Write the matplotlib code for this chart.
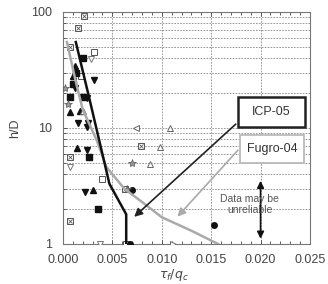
import numpy as np
import matplotlib
matplotlib.use("Agg")
import matplotlib.pyplot as plt
from matplotlib.patches import Rectangle
from matplotlib.ticker import MultipleLocator, FixedLocator, NullFormatter

plt.rcParams['font.family'] = ['Liberation Sans', 'DejaVu Sans']

# design lines
icp_x = [0.0013, 0.0027, 0.0047, 0.0064, 0.0064]
icp_y = [55, 17.5, 3.3, 1.8, 1.0]
fugro_x = [0.0004, 0.0013, 0.0020, 0.0034, 0.0044, 0.0062, 0.0080, 0.0100, 0.0130, 0.0157]
fugro_y = [55, 25, 14.4, 7.9, 4.6, 3.0, 2.3, 1.7, 1.3, 1.0]

# measured points, grouped by marker type
sqx_x = [0.0021, 0.0015, 0.0007, 0.0007, 0.0079, 0.0007, 0.0063]
sqx_y = [92, 73, 50, 5.6, 7.0, 1.58, 3.0]
opensq_x = [0.0031, 0.0040, 0.0064, 0.0018]
opensq_y = [45, 3.6, 1.0, 28]
fillsq_x = [0.0020, 0.0007, 0.0020, 0.0026, 0.0035, 0.0013, 0.0010]
fillsq_y = [40, 18.6, 18.6, 5.6, 2.0, 30, 24]
tridown_x = [0.0031, 0.0024, 0.0015, 0.0025, 0.0024, 0.0022, 0.0024, 0.0012]
tridown_y = [26, 18, 11, 11, 6.4, 2.8, 10.2, 22]
triup_x = [0.0012, 0.0007, 0.0014, 0.0030, 0.0017, 0.0010]
triup_y = [34, 13.8, 6.7, 2.9, 14, 28]
opentri_x = [0.0108, 0.0098, 0.0088, 0.0020]
opentri_y = [10, 6.8, 4.9, 14]
graytri_x = [0.0007, 0.0037, 0.0028]
graytri_y = [4.6, 1.0, 39]
circ_x = [0.0070, 0.0153, 0.0068]
circ_y = [2.9, 1.46, 1.0]
star_x = [0.0002, 0.0070, 0.0065, 0.0005]
star_y = [22, 5.0, 3.0, 16]
left_x = [0.0074]
left_y = [10]
right_x = [0.0111]
right_y = [1.0]

fig = plt.figure(figsize=(3.28, 2.84), dpi=100)
ax = fig.add_axes([0.192, 0.141, 0.753, 0.817])

ax.set_yscale('log')
ax.set_xlim(0, 0.025)
ax.set_ylim(1, 100)

grid_kw = dict(color='#888888', linestyle=(0, (2, 1.5)), linewidth=0.6, zorder=0)
for v in [0.005, 0.010, 0.015, 0.020]:
    ax.axvline(v, **grid_kw)
for dec in [1, 10]:
    for m in range(2, 10):
        ax.axhline(dec * m, **grid_kw)
ax.axhline(10, **grid_kw)

ms = 4
ax.plot(sqx_x, sqx_y, 's', ms=ms, mfc='white', mec='#555555', mew=0.7, zorder=3)
ax.plot(sqx_x, sqx_y, 'x', ms=2.5, mec='#555555', mew=0.6, zorder=4)
ax.plot(opensq_x, opensq_y, 's', ms=ms + 1, mfc='white', mec='#555555', mew=0.7, zorder=3)
ax.plot(fillsq_x, fillsq_y, 's', ms=ms, mfc='#111111', mec='#111111', zorder=3)
ax.plot(tridown_x, tridown_y, 'v', ms=ms + 1, mfc='#111111', mec='#111111', zorder=3)
ax.plot(triup_x, triup_y, '^', ms=ms + 1, mfc='#111111', mec='#111111', zorder=3)
ax.plot(opentri_x, opentri_y, '^', ms=ms + 1, mfc='white', mec='#666666', mew=0.7, zorder=3)
ax.plot(graytri_x, graytri_y, 'v', ms=ms + 1, mfc='white', mec='#777777', mew=0.7, zorder=3)
ax.plot(circ_x, circ_y, 'o', ms=ms, mfc='#111111', mec='#111111', zorder=3)
ax.plot(star_x, star_y, '*', ms=ms + 2, mfc='#999999', mec='#555555', mew=0.5, zorder=3)
ax.plot(left_x, left_y, '<', ms=ms + 1, mfc='white', mec='#666666', mew=0.7, zorder=3)
ax.plot(right_x, right_y, '>', ms=ms + 1, mfc='white', mec='#666666', mew=0.7, zorder=3)

ax.plot(fugro_x, fugro_y, color='#aaaaaa', lw=1.8, zorder=5)
ax.plot(icp_x, icp_y, color='#111111', lw=1.8, zorder=6)

ax.xaxis.set_major_locator(MultipleLocator(0.005))
ax.xaxis.set_minor_locator(MultipleLocator(0.001))
ax.set_xticklabels([f'{v:.3f}' for v in ax.get_xticks()])
ax.yaxis.set_major_locator(FixedLocator([1, 10, 100]))
ax.set_yticklabels(['1', '10', '100'])
ax.yaxis.set_minor_formatter(NullFormatter())
ax.tick_params(which='both', direction='in', top=True, right=False, colors='#444444',
               labelsize=9, length=3, width=0.6)
ax.tick_params(axis='x', which='major', pad=7)
ax.tick_params(axis='y', which='major', pad=8)
ax.tick_params(which='minor', length=2)
for s in ax.spines.values():
    s.set_color('#777777')
    s.set_linewidth(0.8)

ax.set_xlabel(r'$\tau_f/q_c$', fontsize=9, color='#444444')
ax.xaxis.set_label_coords(0.45, -0.1)
ax.set_ylabel('h/D', fontsize=9, color='#444444')
ax.yaxis.set_label_coords(-0.17, 0.5)

# annotation boxes and arrows
ax.annotate('', xy=(0.0070, 1.65), xytext=(0.0177, 11.2),
            arrowprops=dict(arrowstyle='-|>', color='#222222', lw=1.2, mutation_scale=12), zorder=7)
ax.annotate('', xy=(0.0114, 1.65), xytext=(0.0179, 6.7),
            arrowprops=dict(arrowstyle='-|>', color='#aaaaaa', lw=1.2, mutation_scale=12), zorder=7)
ax.add_patch(Rectangle((0.0177, 10.2), 0.0068, 8.1, fc='white', ec='#222222', lw=1.8, zorder=8))
ax.text(0.0211, 13.7, 'ICP-05', fontsize=9, color='#333333', ha='center', va='center', zorder=9)
ax.add_patch(Rectangle((0.0179, 5.0), 0.0065, 3.7, fc='white', ec='#bbbbbb', lw=1.3, zorder=8))
ax.text(0.02115, 6.6, 'Fugro-04', fontsize=9, color='#333333', ha='center', va='center', zorder=9)
ax.annotate('', xy=(0.020, 1.05), xytext=(0.020, 3.7),
            arrowprops=dict(arrowstyle='<|-|>', color='#111111', lw=1.2, mutation_scale=10), zorder=7)
ax.text(0.0189, 2.2, 'Data may be\nunreliable', fontsize=7.5, color='#555555', ha='center',
        va='center', linespacing=1.1, zorder=8)

fig.savefig('out.png', dpi=100)
